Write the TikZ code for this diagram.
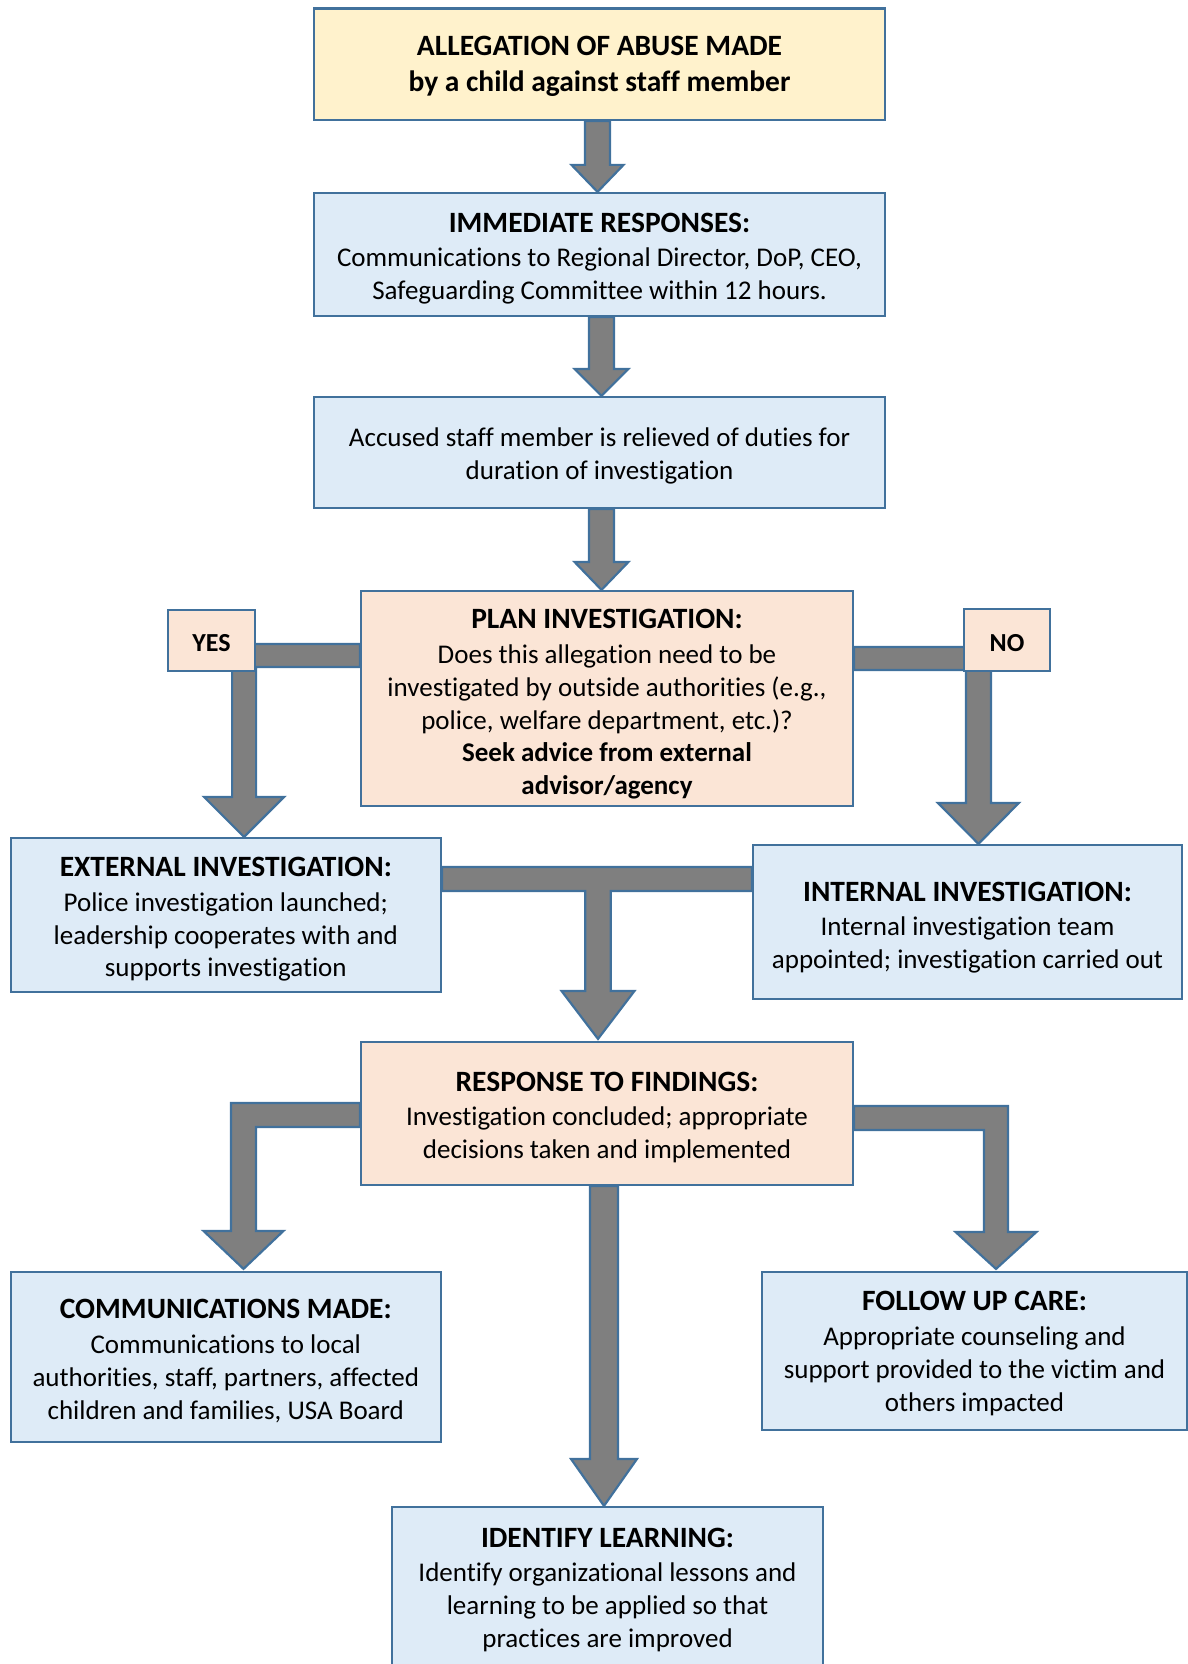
\documentclass[tikz,border=0pt]{standalone}
\usepackage{fontspec}
\setmainfont{Carlito}[Ligatures=NoCommon]
\usetikzlibrary{calc,backgrounds}
\definecolor{bord}{HTML}{41719C}
\definecolor{bluef}{HTML}{DEEBF7}
\definecolor{peachf}{HTML}{FBE5D6}
\definecolor{yellf}{HTML}{FFF2CC}
\definecolor{arrg}{HTML}{7F7F7F}
\tikzset{
  box/.style={draw=bord, line width=2.2pt, rectangle, inner sep=0pt},
  bluebox/.style={box, fill=bluef},
  peachbox/.style={box, fill=peachf},
  yellbox/.style={box, fill=yellf},
  txt/.style={inner sep=0pt, align=center, font=\fontsize{27}{32.9}\selectfont},
  barrow/.style={draw=bord, fill=arrg, line width=2.2pt, line join=miter},
}
\newcommand\ttl[1]{{\fontsize{29.5}{35}\selectfont\bfseries #1}}
\newcommand\vblk[5]{\draw[barrow] let \p1=#1, \p2=#2 in
  (\x1-#3,\y1) -- (\x1-#3,\y2+#5) -- (\x1-#4,\y2+#5) -- (\x1,\y2) --
  (\x1+#4,\y2+#5) -- (\x1+#3,\y2+#5) -- (\x1+#3,\y1) -- cycle;}
\begin{document}
\begin{tikzpicture}[x=1pt,y=1pt]
\useasboundingbox (0,0) rectangle (1187,-1664);
% boxes
\node[yellbox, minimum width=571, minimum height=111.5] (top) at (599.5,-64.25) {};
\node[bluebox, minimum width=571, minimum height=123] (imm) at (599.5,-254.5) {};
\node[bluebox, minimum width=571, minimum height=111] (rel) at (599.5,-452.5) {};
\node[peachbox, minimum width=492, minimum height=215] (plan) at (607,-698.5) {};
\node[peachbox, minimum width=87, minimum height=61] (yes) at (211.5,-640.5) {};
\node[peachbox, minimum width=86, minimum height=62] (no) at (1007,-640) {};
\node[bluebox, minimum width=430.4, minimum height=154] (ext) at (225.8,-915) {};
\node[bluebox, minimum width=429, minimum height=154] (int) at (967.5,-922) {};
\node[peachbox, minimum width=492, minimum height=143] (resp) at (607,-1113.5) {};
\node[bluebox, minimum width=430.4, minimum height=170] (comm) at (225.8,-1357) {};
\node[bluebox, minimum width=425, minimum height=158] (foll) at (974.5,-1351) {};
\node[bluebox, minimum width=431, minimum height=160] (ident) at (607.5,-1587) {};
% texts
\node[txt] (top-t) at ($(top)+(0,-2)$)
  {\ttl{ALLEGATION OF ABUSE MADE}\\[3pt] \ttl{by a child against staff member}};
\node[txt] (imm-t) at ($(imm)+(0,-4)$)
  {\ttl{IMMEDIATE RESPONSES:}\\[1.5pt] Communications to Regional Director, DoP, CEO,\\ Safeguarding Committee within 12 hours.};
\node[txt] (rel-t) at ($(rel)+(0,-3)$)
  {Accused staff member is relieved of duties for\\ duration of investigation};
\node[txt] (plan-t) at ($(plan)+(0,-6)$)
  {\ttl{PLAN INVESTIGATION:}\\[1.5pt] Does this allegation need to be\\ investigated by outside authorities (e.g.,\\ police, welfare department, etc.)?\\ \bfseries Seek advice from external\\ \bfseries advisor/agency};
\node[txt, font=\fontsize{26}{32}\selectfont\bfseries] (yes-t) at ($(yes)+(0,-3)$) {YES};
\node[txt, font=\fontsize{26}{32}\selectfont\bfseries] (no-t) at ($(no)+(0,-3)$) {NO};
\node[txt] (ext-t) at ($(ext)+(0,-4.5)$)
  {\ttl{EXTERNAL INVESTIGATION:}\\[1.5pt] Police investigation launched;\\ leadership cooperates with and\\ supports investigation};
\node[txt] (int-t) at ($(int)+(0,-5.5)$)
  {\ttl{INTERNAL INVESTIGATION:}\\[1.5pt] Internal investigation team\\ appointed; investigation carried out};
\node[txt] (resp-t) at ($(resp)+(0,-4)$)
  {\ttl{RESPONSE TO FINDINGS:}\\[1.5pt] Investigation concluded; appropriate\\ decisions taken and implemented};
\node[txt] (comm-t) at ($(comm)+(0,-4)$)
  {\ttl{COMMUNICATIONS MADE:}\\[1.5pt] Communications to local\\ authorities, staff, partners, affected\\ children and families, USA Board};
\node[txt] (foll-t) at ($(foll)+(0,-2.5)$)
  {\ttl{FOLLOW UP CARE:}\\[1.5pt] Appropriate counseling and\\ support provided to the victim and\\ others impacted};
\node[txt] (ident-t) at ($(ident)+(0,-3)$)
  {\ttl{IDENTIFY LEARNING:}\\[1.5pt] Identify organizational lessons and\\ learning to be applied so that\\ practices are improved};
% arrows
\begin{scope}[on background layer]
\vblk{($(top.south)+(-2,0)$)}{(imm.north)}{12.5}{26}{27}
\vblk{($(imm.south)+(2,0)$)}{(rel.north)}{12.5}{27}{27}
\vblk{($(rel.south)+(2,0)$)}{(plan.north)}{12.5}{27}{28}
% YES
\draw[barrow] let \p1=(plan.west), \p3=(ext.north), \p4=($(yes.east)+(-12,0)$) in
  (\x1,\y1+54.5) -- (\x4-12,\y1+54.5) -- (\x4-12,\y3+40) -- (\x4-40,\y3+40) -- (\x4,\y3)
  -- (\x4+40,\y3+40) -- (\x4+12,\y3+40) -- (\x4+12,\y1+31.5) -- (\x1,\y1+31.5) -- cycle;
% NO
\draw[barrow] let \p1=(plan.east), \p3=(int.north), \p4=($(no.west)+(15.5,0)$) in
  (\x1,\y1+51.5) -- (\x4+12.5,\y1+51.5) -- (\x4+12.5,\y3+41) -- (\x4+40.5,\y3+41) -- (\x4,\y3)
  -- (\x4-40.5,\y3+41) -- (\x4-12.5,\y3+41) -- (\x4-12.5,\y1+28.5) -- (\x1,\y1+28.5) -- cycle;
% T junction
\draw[barrow] let \p1=(ext.east), \p2=(int.west), \p3=($(resp.north)+(-9,0)$) in
  (\x1,\y1+48) -- (\x2,\y1+48) -- (\x2,\y1+24) -- (\x3+12.75,\y1+24) -- (\x3+12.75,\y3+50)
  -- (\x3+36.5,\y3+50) -- (\x3,\y3+2) -- (\x3-36.5,\y3+50) -- (\x3-12.75,\y3+50)
  -- (\x3-12.75,\y1+24) -- (\x1,\y1+24) -- cycle;
% bottom left bent
\draw[barrow] let \p1=(resp.west), \p3=(comm.north), \p4=($(comm.north)+(17.7,0)$) in
  (\x1,\y1+10.5) -- (\x4-12.5,\y1+10.5) -- (\x4-12.5,\y3+40) -- (\x4-40,\y3+40) -- (\x4,\y3+2)
  -- (\x4+40,\y3+40) -- (\x4+12.5,\y3+40) -- (\x4+12.5,\y1-13.5) -- (\x1,\y1-13.5) -- cycle;
% bottom right bent
\draw[barrow] let \p1=(resp.east), \p3=(foll.north), \p4=($(foll.north)+(21.5,0)$) in
  (\x1,\y1+7.5) -- (\x4+12,\y1+7.5) -- (\x4+12,\y3+39) -- (\x4+40.5,\y3+39) -- (\x4,\y3+2)
  -- (\x4-40.5,\y3+39) -- (\x4-12,\y3+39) -- (\x4-12,\y1-16.5) -- (\x1,\y1-16.5) -- cycle;
% center down
\vblk{($(resp.south)+(-3,0)$)}{(ident.north)}{14}{33}{47}
\end{scope}
\end{tikzpicture}
\end{document}
